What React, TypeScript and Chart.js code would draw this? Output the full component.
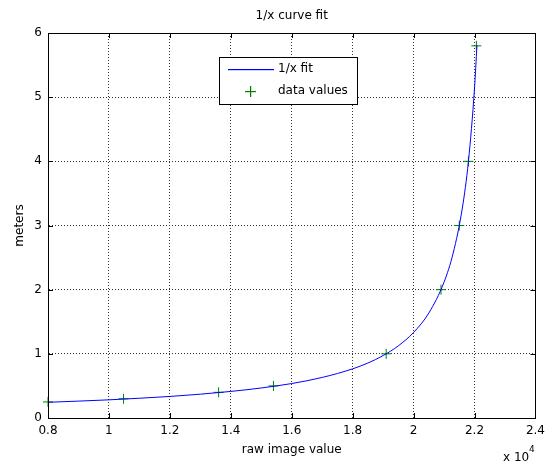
import React, { useEffect, useRef } from "react";
import { Chart, registerables } from "chart.js";

Chart.register(...registerables);

const chartTitle = "1/x curve fit";
const xAxisLabel = "raw image value";
const yAxisLabel = "meters";
const legendLabels = ["1/x fit", "data values"];

// fitted 1/x curve (raw image value, meters)
const fitX = [8000, 9000, 10000, 11000, 12000, 13000, 14000, 15000, 16000, 17000, 18000, 18500, 19000, 19500, 20000, 20500, 21000, 21300, 21600, 21800, 22000, 22080];
const fitY = [0.245, 0.263, 0.283, 0.308, 0.336, 0.371, 0.414, 0.468, 0.537, 0.632, 0.766, 0.857, 0.973, 1.125, 1.333, 1.636, 2.118, 2.571, 3.273, 4.0, 5.143, 5.81];

// measured data values
const dataX = [8000, 10480, 13600, 15400, 19100, 20900, 21500, 21800, 22060];
const dataY = [0.25, 0.3, 0.4, 0.5, 1, 2, 3, 4, 5.8];

const xMin = 8000, xMax = 24000, xStep = 2000;
const yMin = 0, yMax = 6, yStep = 1;

const FONT = "'DejaVu Sans', sans-serif";
const BLUE = "#0000ff";
const GREEN = "#008000";

const decorPlugin = {
  id: "decor",
  afterDatasetsDraw(chart: any) {
    const { ctx, chartArea: a, scales } = chart;
    ctx.save();
    ctx.setLineDash([]);
    // inward ticks
    ctx.strokeStyle = "#000";
    ctx.lineWidth = 1;
    ctx.beginPath();
    scales.x.ticks.forEach((t: any) => {
      const px = Math.round(scales.x.getPixelForValue(t.value)) + 0.5;
      ctx.moveTo(px, a.bottom);
      ctx.lineTo(px, a.bottom - 5);
      ctx.moveTo(px, a.top);
      ctx.lineTo(px, a.top + 5);
    });
    scales.y.ticks.forEach((t: any) => {
      const py = Math.round(scales.y.getPixelForValue(t.value)) + 0.5;
      ctx.moveTo(a.left, py);
      ctx.lineTo(a.left + 5, py);
      ctx.moveTo(a.right, py);
      ctx.lineTo(a.right - 5, py);
    });
    ctx.stroke();
    // box
    ctx.strokeRect(Math.round(a.left) + 0.5, Math.round(a.top) + 0.5, Math.round(a.right - a.left), Math.round(a.bottom - a.top));

    // texts
    ctx.fillStyle = "#000";
    ctx.font = `12px ${FONT}`;
    ctx.textAlign = "center";
    ctx.textBaseline = "middle";
    const cx = (a.left + a.right) / 2;
    ctx.fillText(chartTitle, cx, 16);
    ctx.fillText(xAxisLabel, cx, 450);
    ctx.save();
    ctx.translate(20, (a.top + a.bottom) / 2);
    ctx.rotate(-Math.PI / 2);
    ctx.fillText(yAxisLabel, 0, 0);
    ctx.restore();
    // exponent
    ctx.textAlign = "left";
    ctx.textBaseline = "alphabetic";
    ctx.fillText("x 10", 503, 461);
    ctx.font = `9px ${FONT}`;
    ctx.fillText("4", 529, 452);

    // legend
    const lx = 219.5, ly = 57.5, lw = 138, lh = 47;
    ctx.fillStyle = "#fff";
    ctx.fillRect(lx, ly, lw, lh);
    ctx.strokeStyle = "#000";
    ctx.lineWidth = 1;
    ctx.strokeRect(lx, ly, lw, lh);
    ctx.fillStyle = BLUE;
    ctx.fillRect(228, 69, 46, 1.2);
    ctx.fillStyle = GREEN;
    ctx.fillRect(245, 91, 11, 1.2);
    ctx.fillRect(250, 86, 1.2, 11);
    ctx.fillStyle = "#000";
    ctx.font = `12px ${FONT}`;
    ctx.textBaseline = "middle";
    ctx.fillText(legendLabels[0], 278, 69);
    ctx.fillText(legendLabels[1], 278, 91);
    ctx.restore();
  },
};

export default function App() {
  const ref = useRef<HTMLCanvasElement>(null);
  useEffect(() => {
    document.body.style.margin = "0";
    const chart = new Chart(ref.current!, {
      type: "line",
      data: {
        datasets: [
          {
            label: legendLabels[0],
            data: fitX.map((x, i) => ({ x, y: fitY[i] })),
            borderColor: BLUE,
            borderWidth: 1,
            pointRadius: 0,
            cubicInterpolationMode: "monotone",
            fill: false,
          },
          {
            label: legendLabels[1],
            data: dataX.map((x, i) => ({ x, y: dataY[i] })),
            showLine: false,
            pointStyle: "cross",
            pointRadius: 5,
            borderColor: GREEN,
            backgroundColor: GREEN,
            pointBorderWidth: 1,
            clip: false,
          } as any,
        ],
      },
      options: {
        animation: false,
        responsive: false,
        layout: { padding: { top: 33, right: 14, left: 0, bottom: 0 } },
        plugins: { legend: { display: false }, title: { display: false }, tooltip: { enabled: false } },
        scales: {
          x: {
            type: "linear",
            min: xMin,
            max: xMax,
            afterFit: (s: any) => { s.height = 46; },
            ticks: {
              stepSize: xStep,
              color: "#000",
              font: { family: FONT, size: 12 },
              padding: 6,
              maxRotation: 0,
              callback: (v: any) => String(Math.round(v / 1000) / 10),
            },
            grid: { color: "#333", drawTicks: false, lineWidth: 1 } as any,
            border: { display: true, color: "#000", dash: [1, 2] } as any,
          },
          y: {
            type: "linear",
            min: yMin,
            max: yMax,
            afterFit: (s: any) => { s.width = 48; },
            ticks: {
              stepSize: yStep,
              color: "#000",
              font: { family: FONT, size: 12 },
              padding: 6,
            },
            grid: { color: "#333", drawTicks: false, lineWidth: 1 } as any,
            border: { display: true, color: "#000", dash: [1, 2] } as any,
          },
        },
      },
      plugins: [decorPlugin],
    });
    return () => chart.destroy();
  }, []);
  return (
    <div style={{ width: 551, height: 464 }}>
      <canvas ref={ref} width={551} height={464} />
    </div>
  );
}
